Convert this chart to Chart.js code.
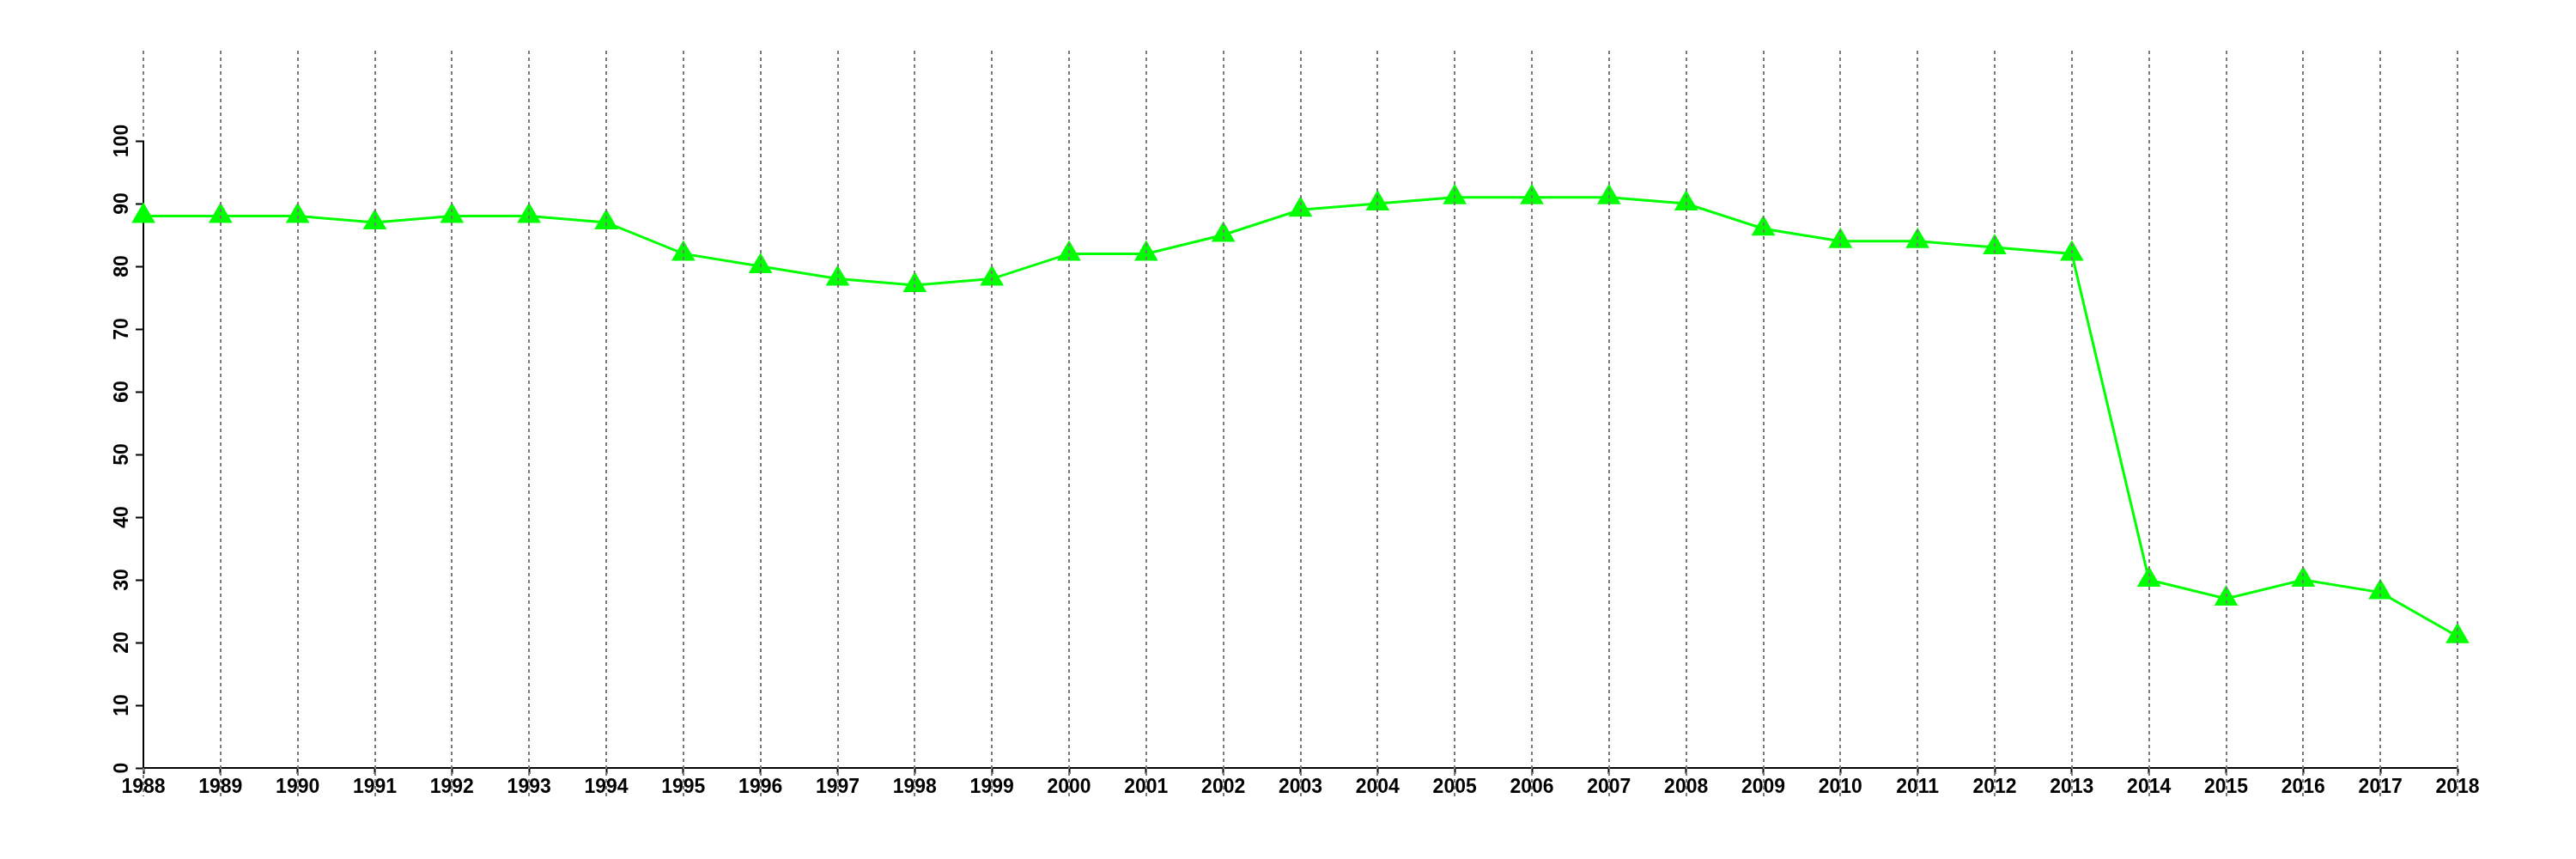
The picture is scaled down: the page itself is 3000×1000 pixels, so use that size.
<!DOCTYPE html>
<html>
<head>
<meta charset="utf-8">
<script src="https://cdn.jsdelivr.net/npm/chart.js@4/dist/chart.umd.min.js"></script>
<style>
  html, body { margin: 0; padding: 0; background: #fff; }
  #wrap { width: 3000px; height: 1000px; }
</style>
</head>
<body>
<div id="wrap"><canvas id="chart"></canvas></div>
<script>
const years = [];
for (let y = 1988; y <= 2018; y += 1) years.push(String(y));

const values = [88, 88, 88, 87, 88, 88, 87, 82, 80, 78, 77, 78, 82, 82, 85, 89, 90, 91, 91, 91,
                90, 86, 84, 84, 83, 82, 30, 27, 30, 28, 21];

const yTicks = [0, 10, 20, 30, 40, 50, 60, 70, 80, 90, 100];

// dotted vertical lines over the markers, running a bit above and below the plot
const dottedLines = {
    id: 'dottedLines',
    afterDatasetsDraw(chart) {
        const ctx = chart.ctx;
        const x = chart.scales.x;
        const area = chart.chartArea;
        const top = area.top - 105;
        const bottom = area.bottom + 33;
        ctx.save();
        ctx.strokeStyle = '#7a7a7a';
        ctx.lineWidth = 2;
        ctx.setLineDash([4, 4]);
        for (let i = 0; i < years.length; i += 1) {
            const px = Math.round(x.getPixelForValue(i));
            ctx.beginPath();
            if (i === 0) {
                // keep the black y axis line clean
                ctx.moveTo(px, top);
                ctx.lineTo(px, area.top);
                ctx.moveTo(px, area.bottom);
                ctx.lineTo(px, bottom);
            } else {
                ctx.moveTo(px, top);
                ctx.lineTo(px, bottom);
            }
            ctx.stroke();
        }
        ctx.restore();
    }
};

Chart.defaults.font.family = '"Liberation Sans", Arial, sans-serif';
Chart.defaults.font.size = 23;
Chart.defaults.font.weight = 'bold';
Chart.defaults.color = '#000';

const ctx = document.getElementById('chart').getContext('2d');
new Chart(ctx, {
    type: 'line',
    data: {
        labels: years,
        datasets: [{
            data: values,
            borderColor: '#00ff00',
            backgroundColor: '#00ff00',
            borderWidth: 3,
            pointStyle: 'triangle',
            pointRadius: 16,
            pointHoverRadius: 16,
            pointBorderWidth: 0,
            tension: 0
        }]
    },
    options: {
        responsive: true,
        maintainAspectRatio: false,
        animation: false,
        layout: { padding: { top: 164, right: 138, bottom: 0, left: 0 } },
        plugins: {
            legend: { display: false },
            tooltip: { enabled: false }
        },
        scales: {
            x: {
                offset: false,
                grid: {
                    drawOnChartArea: false,
                    drawTicks: true,
                    tickLength: 7,
                    tickColor: '#000',
                    tickWidth: 2
                },
                border: { color: '#000', width: 2 },
                ticks: { padding: 2, maxRotation: 0, minRotation: 0, autoSkip: false },
                afterFit(scale) { scale.height = 106; }
            },
            y: {
                min: 0,
                max: 100,
                afterBuildTicks(scale) { scale.ticks = yTicks.map(v => ({ value: v })); },
                grid: {
                    drawOnChartArea: false,
                    tickLength: 9,
                    tickColor: '#000',
                    tickWidth: 2
                },
                border: { color: '#000', width: 2 },
                ticks: { minRotation: 90, maxRotation: 90, crossAlign: 'center', padding: -4, autoSkip: false },
                afterFit(scale) { scale.width = 167; }
            }
        }
    },
    plugins: [dottedLines]
});
</script>
</body>
</html>
